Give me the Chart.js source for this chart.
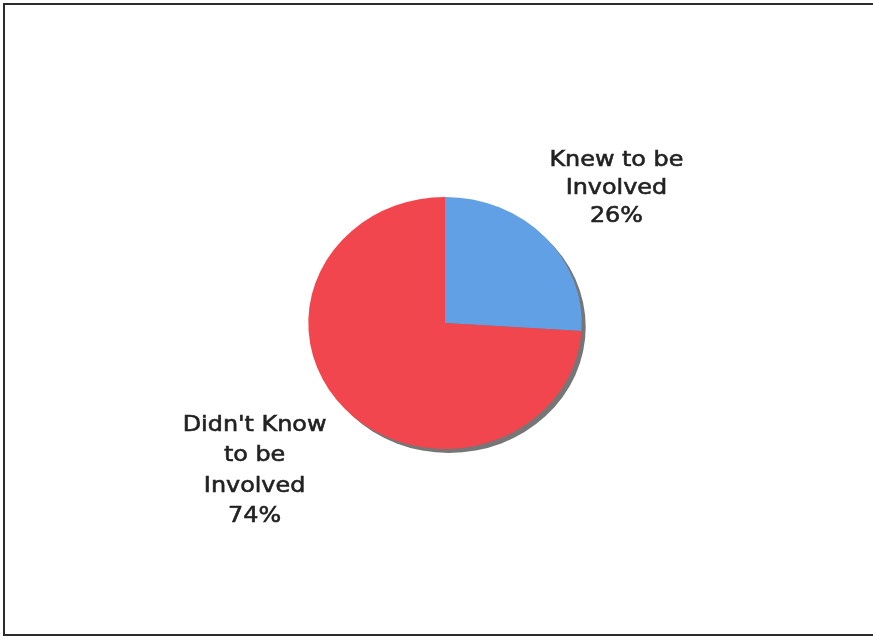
<!DOCTYPE html>
<html>
<head>
<meta charset="utf-8">
<script src="https://cdn.jsdelivr.net/npm/chart.js@4.4.1/dist/chart.umd.min.js"></script>
<style>
  html, body { margin: 0; padding: 0; background: #fff; }
  #wrap { position: relative; width: 873px; height: 642px; overflow: hidden; }
  #frame {
    position: absolute; left: 3px; top: 3px; width: 900px; height: 633px;
    border: 2px solid #2b2b2b; box-sizing: border-box;
  }
  #involvedChart { position: absolute; left: 0; top: 0; }
</style>
</head>
<body>
<div id="wrap">
  <div id="frame"></div>
  <canvas id="involvedChart" width="873" height="642"></canvas>
</div>
<script>
// survey answers, share of respondents
const categories = [
  ['Knew to be', 'Involved'],
  ["Didn't Know", 'to be', 'Involved']
];
const shares = [26, 74];
const sliceColors = ['#62a0e6', '#f2464f'];

// the pie is slightly wider than tall
const stretchX = 1.085;

const ovalPie = {
  id: 'ovalPie',
  beforeDatasetsDraw(chart) {
    const arc = chart.getDatasetMeta(0).data[0];
    if (!arc) return;
    const { ctx } = chart;
    const r = arc.outerRadius;
    // drop shadow under the whole pie
    ctx.save();
    ctx.fillStyle = '#767676';
    ctx.beginPath();
    ctx.ellipse(arc.x + 4, arc.y + 4, r * stretchX, r, 0, 0, Math.PI * 2);
    ctx.fill();
    ctx.restore();

    ctx.save();
    ctx.translate(arc.x, arc.y);
    ctx.scale(stretchX, 1);
    ctx.translate(-arc.x, -arc.y);
  },
  afterDatasetsDraw(chart) {
    chart.ctx.restore();
  }
};

const outsideLabels = {
  id: 'outsideLabels',
  afterDraw(chart, args, opts) {
    const { ctx } = chart;
    const meta = chart.getDatasetMeta(0);
    const total = shares.reduce((a, b) => a + b, 0);
    meta.data.forEach((arc, i) => {
      const mid = (arc.startAngle + arc.endAngle) / 2;
      const off = opts.offsets[i] || [0, 0];
      const x = arc.x + Math.cos(mid) * arc.outerRadius * opts.radius * stretchX + off[0];
      const y = arc.y + Math.sin(mid) * arc.outerRadius * opts.radius + off[1];
      const lines = categories[i].concat(Math.round(shares[i] / total * 100) + '%');
      const lh = opts.lineHeight[i];
      const top = y - (lines.length - 1) * lh / 2;
      ctx.save();
      ctx.font = opts.font;
      ctx.fillStyle = opts.color;
      ctx.strokeStyle = opts.color;
      ctx.lineWidth = 0.6;
      ctx.textAlign = 'center';
      ctx.textBaseline = 'middle';
      lines.forEach((line, j) => {
        ctx.save();
        ctx.translate(x, top + j * lh);
        ctx.scale(stretchX, 1);
        ctx.fillText(line, 0, 0);
        ctx.strokeText(line, 0, 0);
        ctx.restore();
      });
      ctx.restore();
    });
  }
};

new Chart(document.getElementById('involvedChart').getContext('2d'), {
  type: 'pie',
  data: {
    labels: categories.map(c => c.join(' ')),
    datasets: [{
      data: shares,
      backgroundColor: sliceColors,
      borderWidth: 0
    }]
  },
  options: {
    responsive: false,
    animation: false,
    layout: { padding: { left: 319, right: 302, top: 197, bottom: 193 } },
    plugins: {
      legend: { display: false },
      tooltip: { enabled: false },
      outsideLabels: {
        radius: 1.7,
        offsets: [[2, 12], [-21, 1]],
        lineHeight: [28, 30.5],
        font: '22px "DejaVu Sans", Verdana, sans-serif',
        color: '#222'
      }
    }
  },
  plugins: [ovalPie, outsideLabels]
});
</script>
</body>
</html>
